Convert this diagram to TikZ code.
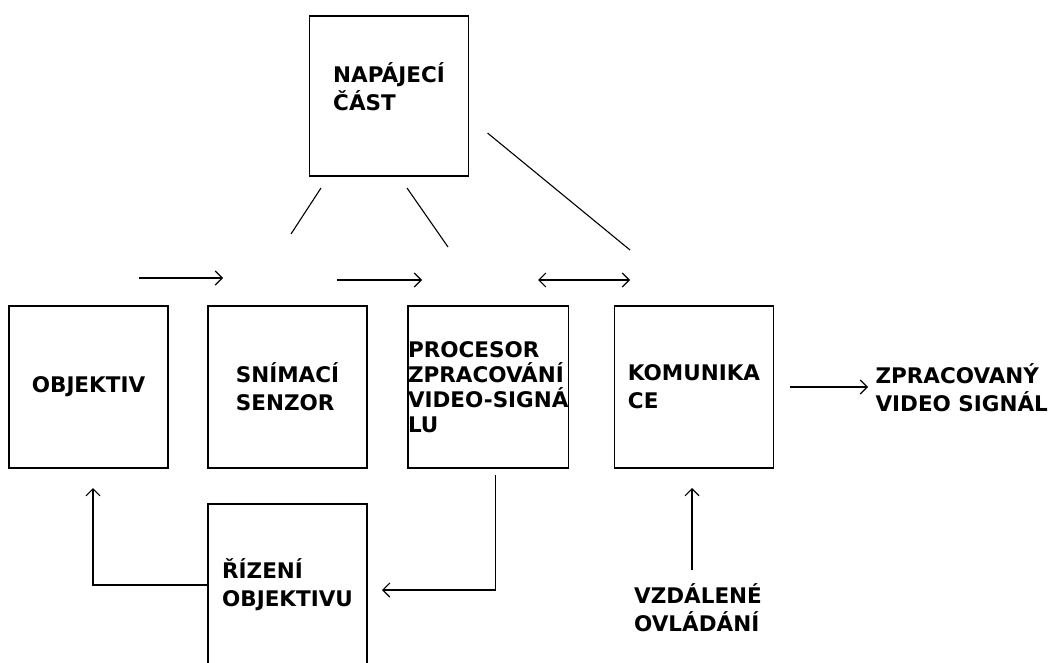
\documentclass[tikz,border=0pt]{standalone}
\usepackage{fontspec}
\setmainfont{DejaVu Sans}
\usetikzlibrary{positioning,arrows.meta,calc}

\begin{document}
\begin{tikzpicture}[x=1pt, y=-1pt, >={Straight Barb[length=7pt,width=14pt]}, node distance=40pt,
  box/.style={draw, line width=1.6pt, outer sep=0pt, minimum width=159pt, minimum height=162pt, inner sep=2pt},
  lbl/.style={font=\bfseries\fontsize{21.5}{28}\selectfont, align=left},
  wire/.style={line width=1.1pt}]
  \useasboundingbox (0,0) rectangle (1051,663);
  % blocks
  \node[box, lbl] (obj) at (88.5,387) {OBJEKTIV};
  \node[box, lbl, right=of obj] (sen) {SNÍMACÍ\\SENZOR};
  \node[box, right=41pt of sen, font=\bfseries\fontsize{21.5}{25}\selectfont, align=left,
        inner xsep=0pt] (proc) {PROCESOR\\ZPRACOVÁNÍ\\VIDEO-SIGNÁ\\LU};
  \node[box, lbl, right=46pt of proc] (kom) {KOMUNIKA\\CE};
  \node[box, lbl, below=36pt of sen] (riz) {ŘÍZENÍ\\OBJEKTIVU};
  \node[box, minimum height=160pt,
        label={[lbl, anchor=north, yshift=-43pt]north:{NAPÁJECÍ\\ČÁST}}] (nap) at (389,96) {};
  \node[lbl, anchor=west] (out) at (872,388) {ZPRACOVANÝ\\VIDEO SIGNÁL};
  \node[lbl, anchor=north] (remote) at (698,580) {VZDÁLENÉ\\OVLÁDÁNÍ};
  % free ends
  \coordinate (t1a) at (139,278);
  \coordinate (t1b) at (223,278);
  \coordinate (t2a) at (337,280);
  \coordinate (t2b) at (422,280);
  \coordinate (t3a) at (538,280);
  \coordinate (t3b) at (630,280);
  \coordinate (p1) at (291,234);
  \coordinate (p2) at (448,247);
  \coordinate (p3) at (630,250);
  \coordinate (remtip) at (692,488);
  % signal path
  \draw[wire, ->] (t1a) -- (t1b);
  \draw[wire, ->] (t2a) -- (t2b);
  \draw[wire, <->] (t3a) -- (t3b);
  \draw[wire, ->, shorten <=16pt, shorten >=4pt] (kom.east) -- (kom.east -| out.west);
  % power
  \draw[wire] ([xshift=-68pt, yshift=-12pt]nap.south) -- (p1);
  \draw[wire] ([xshift=18pt, yshift=-12pt]nap.south) -- (p2);
  \draw[wire] ([xshift=19pt, yshift=-37pt]nap.east) -- (p3);
  % control
  \draw[wire, ->] (riz.west) -| ([xshift=4.5pt, yshift=-20pt]obj.south);
  \draw[wire, ->] ([xshift=7pt, yshift=-7pt]proc.south) |- ([xshift=15pt, yshift=-5pt]riz.east);
  \draw[wire, ->, shorten <=10pt] (remote.north -| remtip) -- (remtip);
\end{tikzpicture}
\end{document}
